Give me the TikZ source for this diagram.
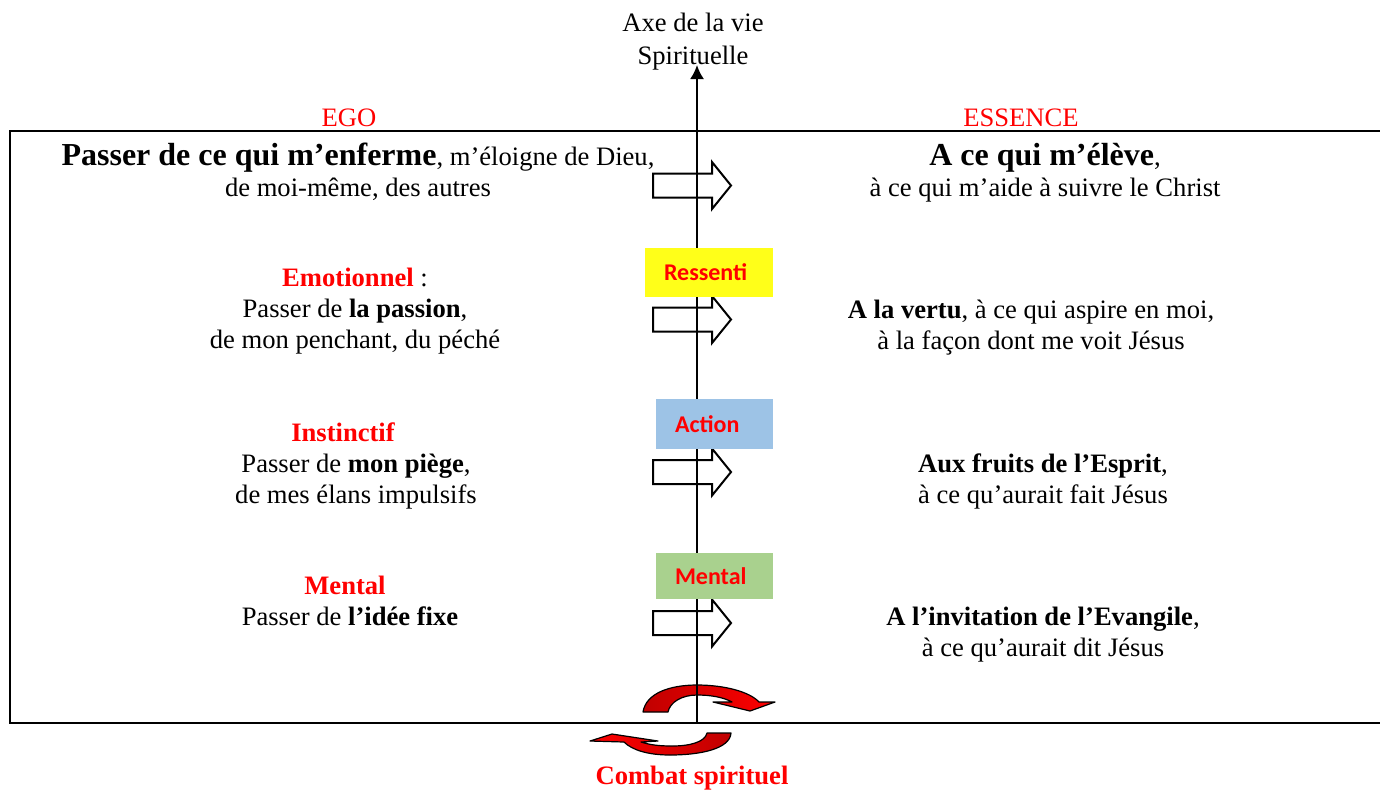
\documentclass[tikz,border=0pt]{standalone}
\usepackage{fontspec}
\setmainfont{Liberation Serif}
\newfontfamily\calibri{Carlito}
\usetikzlibrary{arrows.meta}

\definecolor{egored}{RGB}{255,0,0}
\definecolor{combatdark}{RGB}{192,0,0}
\definecolor{ressentiyellow}{RGB}{255,255,25}
\definecolor{actionblue}{RGB}{157,195,230}
\definecolor{mentalgreen}{RGB}{169,209,142}

\tikzset{
	bodytext/.style={align=center, inner sep=0pt, font=\fontsize{13.3}{15.5}\selectfont},
	tagbox/.style={fill=#1, inner xsep=9.5pt, inner ysep=0pt, align=left,
		font=\calibri\bfseries\fontsize{12}{12}\selectfont, text=egored},
	blockarrow/.style={draw=black, line width=1pt, line join=miter},
	turnarrow/.style={draw=black, line width=0.6pt, line join=round}
}

\begin{document}
\begin{tikzpicture}[x=0.5pt, y=-0.5pt]
	\useasboundingbox (0,0) rectangle (1380,789);

	% cadre
	\draw[line width=1.2pt] (1380,131) -- (10,131) -- (10,723) -- (1380,723);

	% fleches tournantes du combat
	\draw[turnarrow, left color=combatdark, right color=egored]
		(643,712) .. controls (646,693) and (670,685) .. (697,685)
		.. controls (725,685) and (750,692) .. (759,702)
		-- (775,702) -- (750,711) -- (713,702) -- (732,702)
		.. controls (723,697) and (710,695) .. (697,695)
		.. controls (682,695) and (670,702) .. (668,712) -- cycle;
	\draw[turnarrow, left color=egored, right color=combatdark]
		(731,733) .. controls (730,749) and (700,755) .. (670,755)
		.. controls (648,755) and (632,750) .. (624,742)
		-- (590,741) -- (612,734) -- (658,741) -- (641,742)
		.. controls (650,745) and (660,746) .. (672,746)
		.. controls (690,746) and (705,742) .. (707,733) -- cycle;

	% axe
	\coordinate (axisbot) at (697,723);
	\coordinate (axistop) at (697,65);
	\draw[line width=1pt, -{Latex[length=7pt, width=7pt]}] (axisbot) -- (axistop);
	\node[bodytext, font=\fontsize{13.3}{16.5}\selectfont] (axe) at (693,42) {Axe de la vie\\Spirituelle};

	\node[bodytext, text=egored] (ego) at (349,118) {EGO};
	\node[bodytext, text=egored] (essence) at (1021,118) {ESSENCE};

	% fleches pleines
	\foreach \y in {185.5,319.5,472,623}
		\draw[blockarrow] (653,{\y-12}) -- (712,{\y-12}) -- (712,{\y-23.5}) -- (731,\y)
			-- (712,{\y+23.5}) -- (712,{\y+12}) -- (653,{\y+12}) -- cycle;

	\node[tagbox=ressentiyellow, text width=45pt, minimum height=24.5pt] (ressenti) at (709,272.5) {Ressenti};
	\node[tagbox=actionblue, text width=39.5pt, minimum height=25pt] (action) at (714.5,424) {Action};
	\node[tagbox=mentalgreen, text width=39.5pt, minimum height=23pt] (mental) at (714.5,576) {Mental};

	% cote ego
	\node[bodytext] (egoA) at (358,171.5) {{\fontsize{16}{16}\selectfont\bfseries Passer de ce qui m'enferme}, m'éloigne de Dieu,\\de moi-même, des autres};
	\node[bodytext] (egoB) at (355,311) {\textcolor{egored}{\bfseries Emotionnel} :\\Passer de \textbf{la passion},\\de mon penchant, du péché};
	\node[bodytext] (egoC) at (356,465.5) {\textcolor{egored}{\bfseries Instinctif}\hspace*{13pt}\\Passer de \textbf{mon piège},\\de mes élans impulsifs};
	\node[bodytext] (egoD) at (350,601) {\textcolor{egored}{\bfseries Mental}\hspace*{5pt}\\Passer de \textbf{l'idée fixe}};

	% cote essence
	\node[bodytext] (essA) at (1045,172.5) {{\fontsize{16}{16}\selectfont\bfseries A ce qui m'élève},\\à ce qui m'aide à suivre le Christ};
	\node[bodytext] (essB) at (1031,328) {\textbf{A la vertu}, à ce qui aspire en moi,\\à la façon dont me voit Jésus};
	\node[bodytext] (essC) at (1043,481) {\textbf{Aux fruits de l'Esprit},\\à ce qu'aurait fait Jésus};
	\node[bodytext] (essD) at (1043,634.5) {\textbf{A l'invitation de l'Evangile},\\à ce qu'aurait dit Jésus};

	\node[bodytext, text=egored, font=\bfseries\fontsize{13.3}{15.5}\selectfont] (combat) at (692,778) {Combat spirituel};

\end{tikzpicture}
\end{document}
